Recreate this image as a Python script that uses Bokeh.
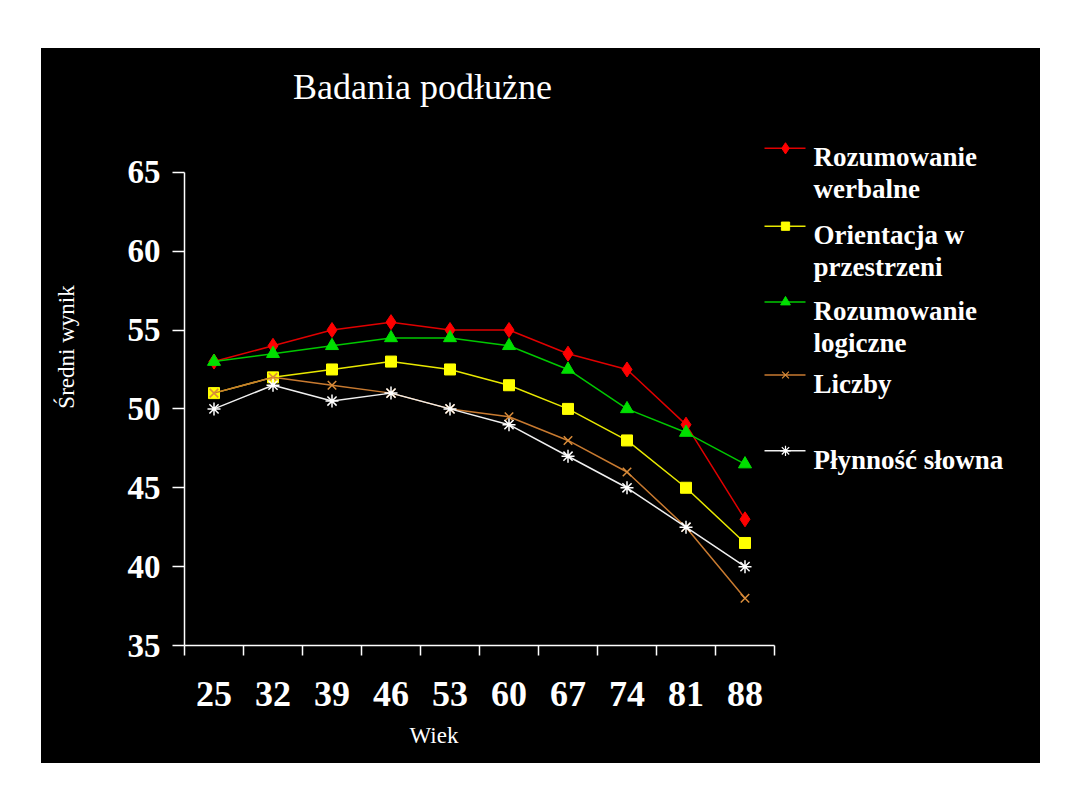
from bokeh.plotting import figure
from bokeh.models import Range1d, FixedTicker, LinearAxis, Title
from bokeh.core.properties import value
from bokeh.embed import file_html
from bokeh.resources import INLINE

# ---------------- data ----------------
ages = [25, 32, 39, 46, 53, 60, 67, 74, 81, 88]
rozumowanie_werbalne = [53, 54, 55, 55.5, 55, 55, 53.5, 52.5, 49, 43]
orientacja_w_przestrzeni = [51, 52, 52.5, 53, 52.5, 51.5, 50, 48, 45, 41.5]
rozumowanie_logiczne = [53, 53.5, 54, 54.5, 54.5, 54, 52.5, 50, 48.5, 46.5]
liczby = [51, 52, 51.5, 51, 50, 49.5, 48, 46, 42.5, 38]
plynnosc_slowna = [50, 51.5, 50.5, 51, 50, 49, 47, 45, 42.5, 40]
y_ticks = [35, 40, 45, 50, 55, 60, 65]

series_labels = [["Rozumowanie", "werbalne"], ["Orientacja w", "przestrzeni"],
                 ["Rozumowanie", "logiczne"], ["Liczby"], ["Płynność słowna"]]
title_text = "Badania podłużne"
x_title = "Wiek"
y_title = "Średni wynik"

# ---------------- layout constants (page pixels) ----------------
FIG_L, FIG_T, FIG_W, FIG_H = 41, 48, 999, 715
FRAME_L, FRAME_B = 184, 646
PX_PER_X = 59.0
PX_PER_Y = 15.8
frame_w = FIG_L + FIG_W - FRAME_L
frame_h = FRAME_B - FIG_T

def X(px):
    return -0.5 + (px - FRAME_L) / PX_PER_X

def Y(py):
    return 35 + (FRAME_B - py) / PX_PER_Y

SERIF = "Liberation Serif"
idx = list(range(len(ages)))

p = figure(width=FIG_W, height=FIG_H, output_backend="svg", toolbar_location=None,
           title=None,
           x_range=Range1d(-0.5, -0.5 + frame_w / PX_PER_X),
           y_range=Range1d(35, 35 + frame_h / PX_PER_Y),
           min_border=0, min_border_left=FRAME_L - FIG_L,
           min_border_bottom=FIG_T + FIG_H - FRAME_B,
           background_fill_color="black", border_fill_color="black",
           outline_line_color=None)
p.margin = (FIG_T, 1080 - FIG_L - FIG_W, 810 - FIG_T - FIG_H, FIG_L)
p.styles = {"background-color": "black"}
p.grid.visible = False

# x axis
xa = p.xaxis[0]
xa.ticker = FixedTicker(ticks=idx, minor_ticks=[i - 0.5 for i in range(len(ages) + 1)])
xa.major_label_overrides = {i: str(a) for i, a in zip(idx, ages)}
xa.bounds = (-0.5, len(ages) - 0.5)
xa.major_tick_out = 0
xa.major_tick_in = 0
xa.minor_tick_out = 10
xa.minor_tick_in = 0
xa.minor_tick_line_color = "white"
xa.minor_tick_line_width = 1.5
xa.axis_line_color = "white"
xa.axis_line_width = 1.5
xa.major_label_text_color = "white"
xa.major_label_text_font = SERIF
xa.major_label_text_font_style = "bold"
xa.major_label_text_font_size = "36px"
xa.major_label_standoff = 26

# y axis
ya = p.yaxis[0]
ya.ticker = FixedTicker(ticks=y_ticks, minor_ticks=[])
ya.bounds = (35, 65)
ya.major_tick_out = 12
ya.major_tick_in = 0
ya.major_tick_line_color = "white"
ya.major_tick_line_width = 1.5
ya.minor_tick_line_color = None
ya.axis_line_color = "white"
ya.axis_line_width = 1.5
ya.major_label_text_color = "white"
ya.major_label_text_font = SERIF
ya.major_label_text_font_style = "bold"
ya.major_label_text_font_size = "33px"
ya.major_label_standoff = 12

# y-axis title on a label-only companion axis
y_lab_axis = LinearAxis(ticker=FixedTicker(ticks=[], minor_ticks=[]),
                        axis_line_color=None, major_tick_line_color=None,
                        minor_tick_line_color=None,
                        major_label_text_font_size="0px",
                        axis_label=y_title, axis_label_standoff=46,
                        axis_label_text_color="white", axis_label_text_font=SERIF,
                        axis_label_text_font_size="23px",
                        axis_label_text_font_style="normal")
p.add_layout(y_lab_axis, "left")

# x-axis title placed under the axis, left-aligned with an offset
t_x = Title(text=x_title, align="left", offset=433 - FRAME_L - 24,
            vertical_align="top",
            text_color="white", text_font=SERIF, text_font_size="23px",
            text_font_style="normal")
t_x.standoff = 28
p.add_layout(t_x, "below")

# ---------------- series ----------------
styles = [
    dict(vals=rozumowanie_werbalne, line="#E00000", fill="#FF0000", marker="diamond", size=15),
    dict(vals=orientacja_w_przestrzeni, line="#E8E800", fill="#FFFF00", marker="square", size=11),
    dict(vals=rozumowanie_logiczne, line="#00C800", fill="#00E000", marker="triangle", size=13),
    dict(vals=liczby, line="#C87A30", fill="#D98C3A", marker="x", size=12),
    dict(vals=plynnosc_slowna, line="#F0F0F0", fill="#FFFFFF", marker="asterisk", size=13),
]

for s in styles:
    p.line(idx, s["vals"], line_color=s["line"], line_width=1.5)
    if s["marker"] in ("x", "asterisk"):
        p.scatter(idx, s["vals"], marker=s["marker"], size=s["size"],
                  line_color=s["fill"], line_width=1.5)
    else:
        p.scatter(idx, s["vals"], marker=s["marker"], size=s["size"],
                  fill_color=s["fill"], line_color=s["fill"])

# ---------------- legend (manual) ----------------
legend_rows = [148, 226, 302, 375, 451]
for s, lab, ry in zip(styles, series_labels, legend_rows):
    p.line([X(764), X(805)], [Y(ry), Y(ry)], line_color=s["line"], line_width=1.5)
    if s["marker"] in ("x", "asterisk"):
        p.scatter([X(785)], [Y(ry)], marker=s["marker"], size=s["size"] * 0.8,
                  line_color=s["fill"], line_width=1.2)
    else:
        p.scatter([X(785)], [Y(ry)], marker=s["marker"], size=s["size"] * 0.75,
                  fill_color=s["fill"], line_color=s["fill"])
    for k, line_txt in enumerate(lab):
        p.text([X(813)], [Y(ry + 9 + 32 * k)], text=[line_txt], text_color="white",
               text_font=value(SERIF), text_font_style="bold", text_font_size="27px",
               text_align="left", text_baseline="alphabetic")

# chart title
p.text([X(422)], [Y(87)], text=[title_text], text_color="white",
       text_font=value(SERIF), text_font_size="36px",
       text_align="center", text_baseline="alphabetic")

open("out.html", "w").write(file_html(p, INLINE))
